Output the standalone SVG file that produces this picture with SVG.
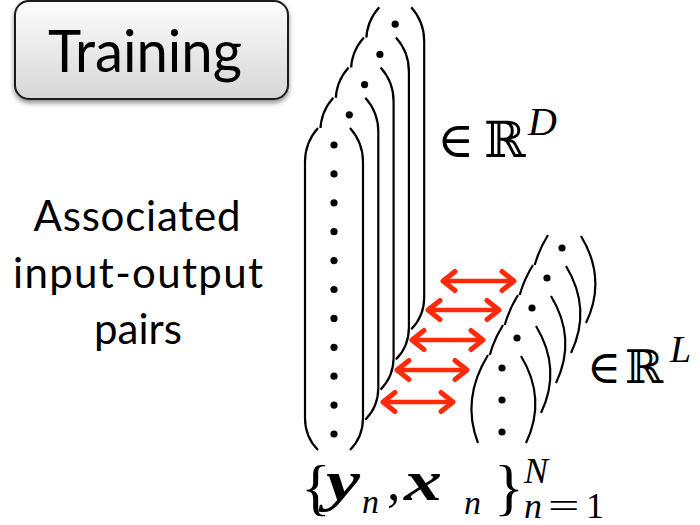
<svg xmlns="http://www.w3.org/2000/svg" xmlns:xlink="http://www.w3.org/1999/xlink" width="700" height="525" viewBox="0 0 700 525">
<style>
.par{fill:none;stroke:#000;stroke-width:2.2}
.bg{fill:#fff;stroke:none}
.dot{fill:#000}
.arr{stroke:#ff2a0a;stroke-width:4.5;fill:none;marker-start:url(#ah);marker-end:url(#ah)}
.cal{font-family:Lato,"Open Sans","Noto Sans",sans-serif;fill:#000}
.ms{font-family:"DejaVu Serif","DejaVu Sans",serif;fill:#000}
.mt{font-family:"Liberation Serif",serif;fill:#000}
</style>
<defs>
<linearGradient id="btn" x1="0" y1="0" x2="0" y2="1">
<stop offset="0" stop-color="#fdfdfd"/>
<stop offset="1" stop-color="#d6d6d6"/>
</linearGradient>
<filter id="sh" x="-10%" y="-10%" width="120%" height="130%">
<feDropShadow dx="0" dy="3" stdDeviation="2.5" flood-color="#000" flood-opacity="0.45"/>
</filter>
<marker id="ah" viewBox="-16 -13 19 26" refX="0" refY="0" markerWidth="19" markerHeight="26" markerUnits="userSpaceOnUse" orient="auto-start-reverse">
<path d="M-12,-9.5 L0,0 L-12,9.5" fill="none" stroke="#ff2a0a" stroke-width="5" stroke-linecap="round" stroke-linejoin="round"/>
</marker>
<g id="bigvec">
<path class="bg" d="M318,128 C309,138 305,150 305,162 L305,418 C305,430 309,441 318,450 L350,450 C359,441 363,430 363,418 L363,162 C363,150 359,138 350,128 Z"/>
<path class="par" d="M318,128 C309,138 305,150 305,162 L305,418 C305,430 309,441 318,450"/>
<path class="par" d="M350,128 C359,138 363,150 363,162 L363,418 C363,430 359,441 350,450"/>
<g class="dot">
<circle cx="334" cy="145" r="3.6"/><circle cx="334" cy="173.9" r="3.6"/><circle cx="334" cy="202.8" r="3.6"/><circle cx="334" cy="231.7" r="3.6"/><circle cx="334" cy="260.6" r="3.6"/><circle cx="334" cy="289.5" r="3.6"/><circle cx="334" cy="318.4" r="3.6"/><circle cx="334" cy="347.3" r="3.6"/><circle cx="334" cy="376.2" r="3.6"/><circle cx="334" cy="405.1" r="3.6"/><circle cx="334" cy="434" r="3.6"/>
</g>
</g>
<g id="smallvec">
<path class="bg" d="M488,355 Q461,399 478,443 L526,443 Q547,399 521,356 Z"/>
<path class="par" d="M488,355 Q461,399 478,443"/>
<path class="par" d="M521,356 Q547,399 526,443"/>
<g class="dot"><circle cx="502" cy="368" r="3.6"/><circle cx="502" cy="400" r="3.6"/><circle cx="502" cy="432" r="3.6"/></g>
</g>
</defs>

<g id="training">
<rect x="15" y="1" width="273" height="98" rx="14" fill="url(#btn)" stroke="#1a1a1a" stroke-width="2" filter="url(#sh)"/>
<text class="cal" x="145" y="72" font-size="58" text-anchor="middle" textLength="194" lengthAdjust="spacingAndGlyphs">Training</text>
</g>

<g id="caption">
<text class="cal" font-size="42" text-anchor="middle" lengthAdjust="spacingAndGlyphs">
<tspan x="137" y="231" textLength="207">Associated</tspan>
</text>
<text class="cal" font-size="42" text-anchor="middle" lengthAdjust="spacingAndGlyphs">
<tspan x="138" y="288" textLength="250">input-output</tspan>
</text>
<text class="cal" font-size="42" text-anchor="middle" lengthAdjust="spacingAndGlyphs">
<tspan x="138" y="344" textLength="88">pairs</tspan>
</text>
</g>

<g id="outputs-y">
<use xlink:href="#bigvec" transform="translate(61.2,-120.8)"/>
<use xlink:href="#bigvec" transform="translate(45.9,-90.6)"/>
<use xlink:href="#bigvec" transform="translate(30.6,-60.4)"/>
<use xlink:href="#bigvec" transform="translate(15.3,-30.2)"/>
<use xlink:href="#bigvec"/>
</g>

<g id="inputs-x">
<use xlink:href="#smallvec" transform="translate(60,-120)"/>
<use xlink:href="#smallvec" transform="translate(45,-90)"/>
<use xlink:href="#smallvec" transform="translate(30,-60)"/>
<use xlink:href="#smallvec" transform="translate(15,-30)"/>
<use xlink:href="#smallvec"/>
</g>

<g id="connectors">
<line class="arr" x1="443" y1="281" x2="514" y2="281"/>
<line class="arr" x1="428" y1="310" x2="499" y2="310"/>
<line class="arr" x1="412" y1="340" x2="483" y2="340"/>
<line class="arr" x1="397" y1="370" x2="467" y2="370"/>
<line class="arr" x1="383" y1="402" x2="453" y2="402"/>
</g>

<g id="label-RD">
<text class="ms" x="437" y="157" font-size="50">∈</text>
<text class="ms" x="484" y="157" font-size="50">ℝ</text>
<text class="mt" x="528" y="135" font-size="40" font-style="italic">D</text>
</g>

<g id="label-RL">
<text class="ms" x="587" y="383" font-size="46">∈</text>
<text class="ms" x="625" y="383" font-size="46">ℝ</text>
<text class="mt" x="670" y="362" font-size="38" font-style="italic">L</text>
</g>

<g id="label-set">
<text class="mt" x="301" y="508" font-size="62">{</text>
<text class="mt" x="326" y="500" font-size="56" font-weight="bold" font-style="italic" textLength="34" lengthAdjust="spacingAndGlyphs">y</text>
<text class="mt" x="362" y="513" font-size="34" font-style="italic">n</text>
<text class="mt" x="387" y="500" font-size="54">,</text>
<text class="mt" x="404" y="500" font-size="56" font-weight="bold" font-style="italic" textLength="38" lengthAdjust="spacingAndGlyphs">x</text>
<text class="mt" x="464" y="514" font-size="34" font-style="italic">n</text>
<text class="mt" x="494" y="508" font-size="62">}</text>
<text class="mt" x="524" y="483" font-size="36" font-style="italic">N</text>
<text class="mt" x="524" y="518" font-size="36" font-style="italic">n</text>
<text class="mt" x="0" y="0" font-size="36" transform="translate(548,518) scale(1.55,1)">=</text>
<text class="mt" x="586" y="518" font-size="36">1</text>
</g>
</svg>
